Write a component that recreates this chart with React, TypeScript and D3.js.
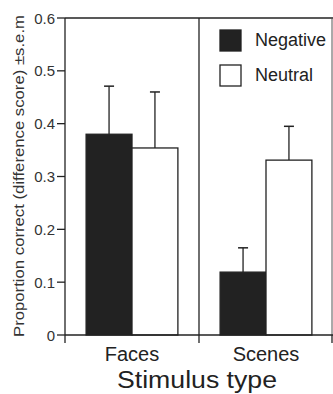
import React from "react";
import * as d3 from "d3";

const categories = ["Faces", "Scenes"];
const seriesNames = ["Negative", "Neutral"];
const negativeValues = [0.38, 0.119];
const neutralValues = [0.354, 0.331];
const negativeErr = [0.091, 0.046];
const neutralErr = [0.106, 0.064];
const yTicks = [0, 0.1, 0.2, 0.3, 0.4, 0.5, 0.6];

const W = 333;
const H = 394;
const left = 65;
const right = 333;
const top = 18;
const bottom = 335;
const font = "'Liberation Sans', Arial, Helvetica, sans-serif";

export default function App() {
  const y = d3.scaleLinear().domain([0, 0.6]).range([bottom, top]);
  const x = d3.scaleBand().domain(categories).range([left, right]).paddingInner(0).paddingOuter(0);
  const inner = d3.scaleBand().domain(seriesNames).range([0, x.bandwidth()]).paddingInner(0).paddingOuter(0.46);
  const series = [
    { name: "Negative", vals: negativeValues, errs: negativeErr, fill: "#222" },
    { name: "Neutral", vals: neutralValues, errs: neutralErr, fill: "#fff" },
  ];
  const stroke = "#222";
  return (
    <svg width={W} height={H} style={{ position: "fixed", left: 0, top: 0, background: "#fff" }}>
      {/* frame */}
      <line x1={left} x2={right} y1={top} y2={top} stroke={stroke} strokeWidth={1.3} />
      <line x1={left} x2={left} y1={top} y2={bottom} stroke={stroke} strokeWidth={1.3} />
      <line x1={right - 1} x2={right - 1} y1={top} y2={bottom} stroke="#555" strokeWidth={1} />
      <line x1={x("Scenes")!} x2={x("Scenes")!} y1={top} y2={bottom} stroke={stroke} strokeWidth={1.3} />
      {/* bars */}
      {series.map((s) =>
        categories.map((c, i) => {
          const bx = x(c)! + inner(s.name)!;
          const bw = inner.bandwidth();
          const cx = bx + bw / 2;
          return (
            <g key={s.name + c}>
              <line x1={cx} x2={cx} y1={y(s.vals[i])} y2={y(s.vals[i] + s.errs[i])} stroke={stroke} strokeWidth={1.3} />
              <line x1={cx - 5} x2={cx + 5} y1={y(s.vals[i] + s.errs[i])} y2={y(s.vals[i] + s.errs[i])} stroke={stroke} strokeWidth={1.5} />
              <rect x={bx} y={y(s.vals[i])} width={bw} height={bottom - y(s.vals[i])} fill={s.fill} stroke={stroke} strokeWidth={1.3} />
            </g>
          );
        })
      )}
      {/* x axis */}
      <line x1={left} x2={right} y1={bottom} y2={bottom} stroke={stroke} strokeWidth={1.3} />
      {[left, x("Scenes")!, right - 1].map((t, i) => (
        <line key={i} x1={t} x2={t} y1={bottom} y2={bottom + 8} stroke={stroke} strokeWidth={1.3} />
      ))}
      {categories.map((c) => (
        <text key={c} x={x(c)! + x.bandwidth() / 2} y={361} textAnchor="middle" fontFamily={font} fontSize={20} fill="#222">
          {c}
        </text>
      ))}
      <text x={117} y={388} textLength={160} lengthAdjust="spacingAndGlyphs" fontFamily={font} fontSize={23} fill="#222">
        Stimulus type
      </text>
      {/* y axis ticks */}
      {yTicks.map((t) => (
        <g key={t}>
          <line x1={left - 8} x2={left} y1={y(t)} y2={y(t)} stroke={stroke} strokeWidth={1.3} />
          <text x={55} y={y(t) + 5.5} textAnchor="end" fontFamily={font} fontSize={15} fill="#333">
            {t === 0 ? "0" : t.toFixed(1)}
          </text>
        </g>
      ))}
      <text
        transform={`translate(24, 337) rotate(-90)`}
        textLength={322}
        lengthAdjust="spacingAndGlyphs"
        fontFamily={font}
        fontSize={14.5}
        fill="#333"
      >
        Proportion correct (difference score) ±s.e.m
      </text>
      {/* legend */}
      {seriesNames.map((n, i) => (
        <g key={n}>
          <rect x={220} y={30 + i * 35} width={21} height={21} fill={series[i].fill} stroke={stroke} strokeWidth={1.3} />
          <text x={255} y={46 + i * 35} fontFamily={font} fontSize={18} fill="#222">
            {n}
          </text>
        </g>
      ))}
    </svg>
  );
}
